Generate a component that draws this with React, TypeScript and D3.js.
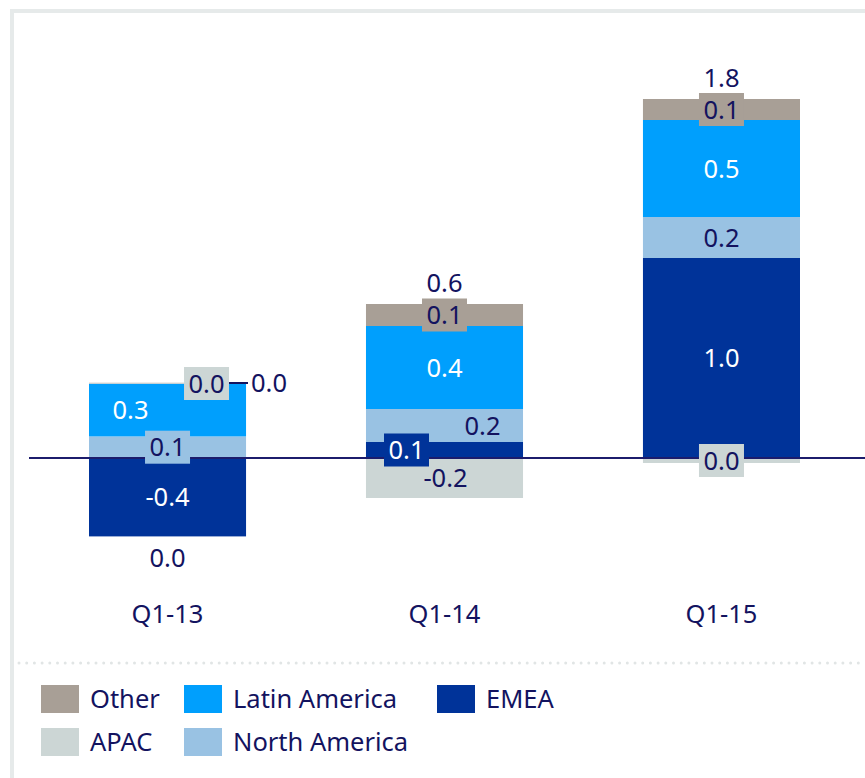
import React from "react";
import * as d3 from "d3";

const categories = ["Q1-13", "Q1-14", "Q1-15"];
const seriesKeys = ["EMEA", "North America", "Latin America", "APAC", "Other"];
const emea = [-0.392, 0.08, 1.0];
const northAmerica = [0.108, 0.165, 0.205];
const latinAmerica = [0.263, 0.415, 0.485];
const apac = [0.003, -0.2, -0.025];
const other = [0.002, 0.11, 0.105];

const legendRows = [
  ["Other", "Latin America", "EMEA"],
  ["APAC", "North America"],
];

const colors: Record<string, string> = {
  EMEA: "#003399",
  "North America": "#99c2e3",
  "Latin America": "#009ffd",
  APAC: "#ccd6d5",
  Other: "#a89f96",
};
const whiteText = new Set(["EMEA", "Latin America"]);

// label horizontal offsets (px from bar center), layout only
const labelDx: Record<string, number[]> = {
  EMEA: [0, -38, 0],
  "North America": [0, 38, 0],
  "Latin America": [-37, 0, 0],
  APAC: [39, 1, 0],
  Other: [39, 0, 0],
};
const leaderLabels = new Set(["Other|Q1-13"]);

const NAVY = "#13135f";
const FONT = "'Noto Sans', 'Open Sans', sans-serif";
const FS = 25.5;

function fmt(v: number) {
  const s = v.toFixed(1);
  return s === "-0.0" ? "0.0" : s;
}

export default function App() {
  const W = 865;
  const H = 778;
  const rows = categories.map((c, i) => ({
    cat: c,
    EMEA: emea[i],
    "North America": northAmerica[i],
    "Latin America": latinAmerica[i],
    APAC: apac[i],
    Other: other[i],
  }));
  const stack = d3
    .stack<any>()
    .keys(seriesKeys)
    .offset(d3.stackOffsetDiverging);
  const series = stack(rows);

  const x = d3
    .scaleBand()
    .domain(categories)
    .range([89, 800])
    .paddingInner(0.433)
    .paddingOuter(0);
  const y = d3.scaleLinear().domain([0, 1]).range([458, 258]);

  const bw = x.bandwidth();

  const totals = rows.map((r) =>
    seriesKeys.reduce((a, k) => a + (r as any)[k], 0)
  );
  const extents = categories.map((_, i) => {
    let lo = 0,
      hi = 0;
    series.forEach((s) => {
      lo = Math.min(lo, s[i][0], s[i][1]);
      hi = Math.max(hi, s[i][0], s[i][1]);
    });
    return [lo, hi];
  });

  const labels: any[] = [];
  series.forEach((s) => {
    const key = s.key;
    s.forEach((d, i) => {
      const cat = categories[i];
      const y0 = y(d[0]);
      const y1 = y(d[1]);
      const mid = (y0 + y1) / 2;
      const h = Math.abs(y1 - y0);
      const cx = (x(cat) as number) + bw / 2 + labelDx[key][i];
      const val = (rows[i] as any)[key];
      labels.push({
        key,
        cat,
        cx,
        mid,
        h,
        text: fmt(val),
        leader: leaderLabels.has(key + "|" + cat),
      });
    });
  });

  const boxH = 33;
  const boxW = (t: string) => 12 + 11 * t.length;

  return (
    <svg
      width={W}
      height={H}
      style={{ position: "absolute", left: 0, top: 0, display: "block" }}
      fontFamily={FONT}
    >
      <rect x={0} y={0} width={W} height={H} fill="#ffffff" />
      {/* frame */}
      <rect x={10} y={9} width={W - 10} height={4} fill="#e6eaea" />
      <rect x={10} y={9} width={4} height={H - 9} fill="#e6eaea" />

      {/* bars */}
      {series.map((s) => (
        <g key={s.key} fill={colors[s.key]}>
          {s.map((d, i) => (
            <rect
              key={i}
              x={x(categories[i])}
              width={bw}
              y={Math.min(y(d[0]), y(d[1]))}
              height={Math.abs(y(d[1]) - y(d[0]))}
            />
          ))}
        </g>
      ))}

      {/* zero line */}
      <line x1={29} x2={W} y1={y(0)} y2={y(0)} stroke="#1c1c6c" strokeWidth={2} />

      {/* segment labels */}
      {labels.map((l, idx) => {
        if (l.leader) {
          const x0 = l.cx + boxW(l.text) / 2;
          return (
            <g key={idx}>
              <line x1={x0} x2={x0 + 19} y1={l.mid} y2={l.mid} stroke={NAVY} strokeWidth={2} />
              <text
                x={x0 + 22}
                y={l.mid}
                dy="0.36em"
                fontSize={FS}
                fill={NAVY}
                textAnchor="start"
              >
                {l.text}
              </text>
            </g>
          );
        }
        const small = l.h < 30;
        const fill = whiteText.has(l.key) ? "#ffffff" : NAVY;
        return (
          <g key={idx}>
            {small && (
              <rect
                x={l.cx - boxW(l.text) / 2}
                y={l.mid - boxH / 2}
                width={boxW(l.text)}
                height={boxH}
                fill={colors[l.key]}
              />
            )}
            <text
              x={l.cx}
              y={l.mid}
              dy="0.36em"
              fontSize={FS}
              fill={fill}
              textAnchor="middle"
            >
              {l.text}
            </text>
          </g>
        );
      })}

      {/* totals */}
      {categories.map((c, i) => {
        const t = totals[i];
        const [lo, hi] = extents[i];
        const yy = t >= 0 ? y(hi) - 21 : y(lo) + 21;
        return (
          <text
            key={c}
            x={(x(c) as number) + bw / 2}
            y={yy}
            dy="0.36em"
            fontSize={FS}
            fill={NAVY}
            textAnchor="middle"
          >
            {fmt(t)}
          </text>
        );
      })}

      {/* category axis labels */}
      {categories.map((c) => (
        <text
          key={c}
          x={(x(c) as number) + bw / 2}
          y={614}
          dy="0.36em"
          fontSize={FS}
          fill={NAVY}
          textAnchor="middle"
        >
          {c}
        </text>
      ))}

      {/* dotted separator */}
      <line
        x1={19}
        x2={W}
        y1={663}
        y2={663}
        stroke="#e1e5e5"
        strokeWidth={3}
        strokeDasharray="0 7.7"
        strokeLinecap="round"
      />

      {/* legend */}
      {legendRows.map((row, ri) =>
        row.map((name, ci) => {
          const lx = [41, 184, 437][ci];
          const ly = 685 + ri * 43;
          return (
            <g key={name}>
              <rect x={lx} y={ly} width={38} height={28} fill={colors[name]} />
              <text
                x={lx + 49}
                y={ly + 14}
                dy="0.36em"
                fontSize={FS}
                fill={NAVY}
              >
                {name}
              </text>
            </g>
          );
        })
      )}
    </svg>
  );
}
